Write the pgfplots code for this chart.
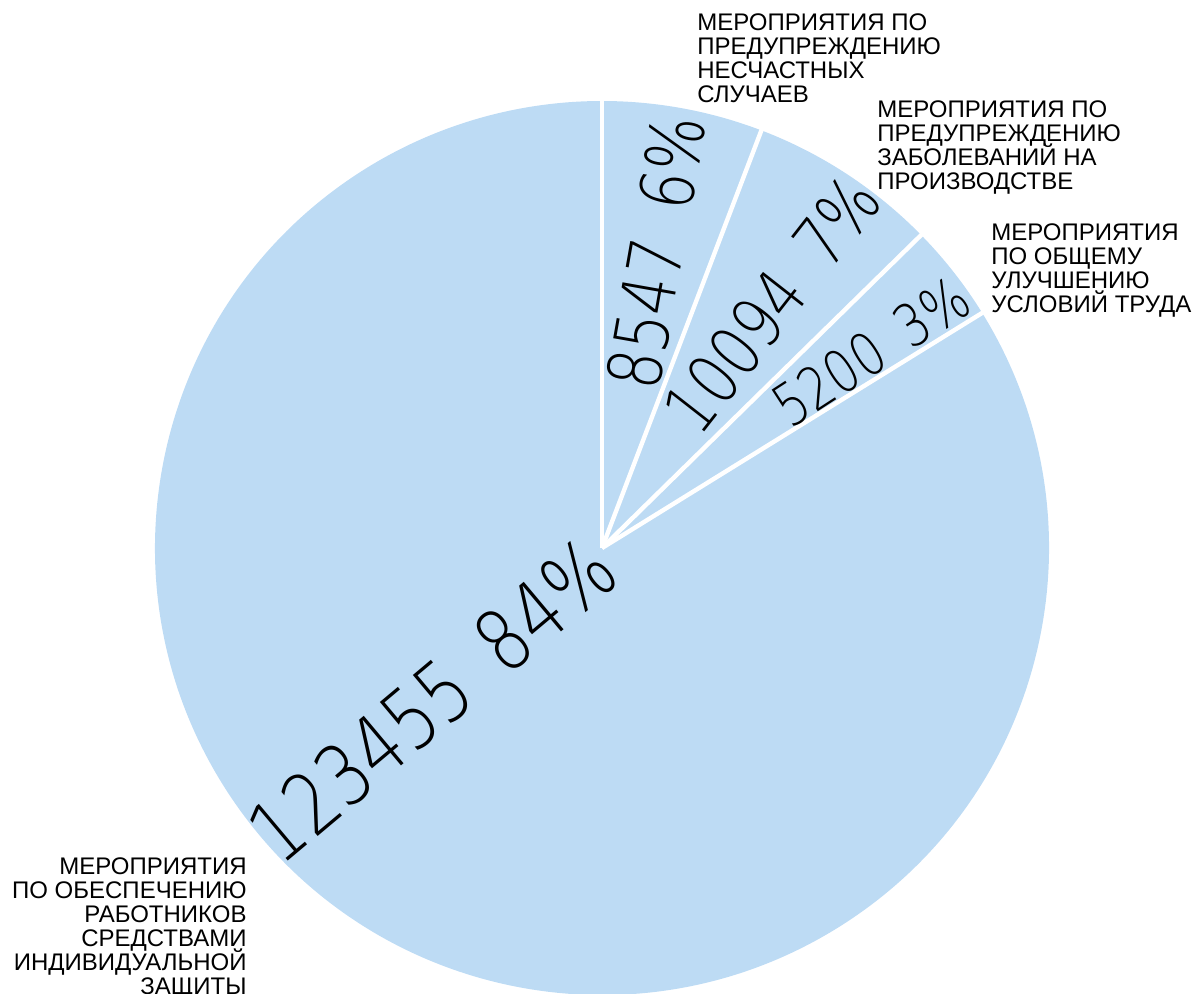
\documentclass[border=0pt]{standalone}
\usepackage{fontspec}
\setmainfont{Liberation Sans}
\newfontfamily\numfont{DejaVu Sans ExtraLight}[FakeStretch=0.8]
\usepackage{pgfplots}
\pgfplotsset{compat=1.18}
\definecolor{pieblue}{RGB}{189,219,244}
% data
\def\valA{8547}   % предупреждение несчастных случаев
\def\valB{10094}  % предупреждение заболеваний
\def\valC{5200}   % общее улучшение условий труда
\def\valD{123455} % средства индивидуальной защиты
\edef\tot{\fpeval{\valA+\valB+\valC+\valD}}
\edef\aA{\fpeval{90-360*\valA/\tot}}
\edef\aB{\fpeval{\aA-360*\valB/\tot}}
\edef\aC{\fpeval{\aB-360*\valC/\tot}}
\edef\aD{\fpeval{\aC-360*\valD/\tot}}
\def\Rad{223.5pt}
\def\Rsep{226pt}
\newcommand\gap{\hspace{0.42em}}
\begin{document}
\begin{tikzpicture}
\path[use as bounding box] (0,0) rectangle (600pt,496.5pt);
\begin{axis}[x=0.5pt,y=0.5pt,xmin=0,xmax=1200,ymin=0,ymax=993,
  at={(0,0)},anchor=origin,hide axis,clip=false]
\addplot[draw=none] coordinates {(0,0) (1200,993)};
\fill[pieblue] (axis cs:602,445) -- ++(90:\Rad) arc[start angle=90,end angle=\aA,radius=\Rad] -- cycle;
\fill[pieblue] (axis cs:602,445) -- ++(\aA:\Rad) arc[start angle=\aA,end angle=\aB,radius=\Rad] -- cycle;
\fill[pieblue] (axis cs:602,445) -- ++(\aB:\Rad) arc[start angle=\aB,end angle=\aC,radius=\Rad] -- cycle;
\fill[pieblue] (axis cs:602,445) -- ++(\aC:\Rad) arc[start angle=\aC,end angle=\aD,radius=\Rad] -- cycle;
\draw[white,line width=2.2pt] (axis cs:602,445) -- ++(90:\Rsep);
\draw[white,line width=2.2pt] (axis cs:602,445) -- ++(\aA:\Rsep);
\draw[white,line width=2.2pt] (axis cs:602,445) -- ++(\aB:\Rsep);
\draw[white,line width=2.2pt] (axis cs:602,445) -- ++(\aC:\Rsep);
\node[rotate=80,inner sep=0,font=\numfont\fontsize{37}{37}\selectfont] at (axis cs:656,741) {8547\gap6\%};
\node[rotate=52,inner sep=0,font=\numfont\fontsize{35.5}{35.5}\selectfont] at (axis cs:772,689) {10094\gap7\%};
\node[rotate=33,inner sep=0,font=\numfont\fontsize{29.5}{29.5}\selectfont] at (axis cs:871,641) {5200\gap3\%};
\node[rotate=40,inner sep=0,font=\numfont\fontsize{42.5}{42.5}\selectfont] at (axis cs:432,293) {123455\gap84\%};
\tikzset{lab/.style={inner sep=0,font={\fontsize{12}{12}\selectfont\lineskiplimit=-100pt\lineskip=0pt}}}
\node[lab,anchor=north west,align=left] at (axis cs:697,980) {МЕРОПРИЯТИЯ ПО\\ПРЕДУПРЕЖДЕНИЮ\\НЕСЧАСТНЫХ\\СЛУЧАЕВ};
\node[lab,anchor=north west,align=left] at (axis cs:877,893) {МЕРОПРИЯТИЯ ПО\\ПРЕДУПРЕЖДЕНИЮ\\ЗАБОЛЕВАНИЙ НА\\ПРОИЗВОДСТВЕ};
\node[lab,anchor=north west,align=left] at (axis cs:991,770) {МЕРОПРИЯТИЯ\\ПО ОБЩЕМУ\\УЛУЧШЕНИЮ\\УСЛОВИЙ ТРУДА};
\node[lab,anchor=north east,align=right] at (axis cs:247,136) {МЕРОПРИЯТИЯ\\ПО ОБЕСПЕЧЕНИЮ\\РАБОТНИКОВ\\СРЕДСТВАМИ\\ИНДИВИДУАЛЬНОЙ\\ЗАЩИТЫ};
\end{axis}
\end{tikzpicture}
\end{document}
